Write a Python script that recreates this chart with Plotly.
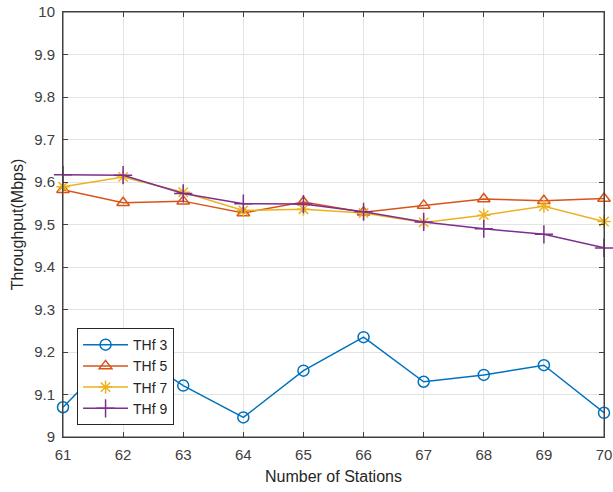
import plotly.graph_objects as go

stations = [61, 62, 63, 64, 65, 66, 67, 68, 69, 70]
thf3 = [9.070, 9.215, 9.121, 9.046, 9.156, 9.235, 9.130, 9.146, 9.169, 9.057]
thf5 = [9.582, 9.551, 9.555, 9.527, 9.553, 9.529, 9.545, 9.560, 9.556, 9.561]
thf7 = [9.589, 9.612, 9.576, 9.533, 9.536, 9.527, 9.505, 9.522, 9.543, 9.507]
thf9 = [9.617, 9.616, 9.573, 9.549, 9.548, 9.530, 9.506, 9.490, 9.477, 9.445]
names = ["THf 3", "THf 5", "THf 7", "THf 9"]
colors = ["#0072BD", "#D95319", "#EDB120", "#7E2F8E"]
symbols = ["circle-open", "triangle-up-open", "asterisk-open", "cross-thin-open"]
sizes = [11, 11, 11, 13]

fig = go.Figure()
for name, ys, c, s, sz in zip(names, [thf3, thf5, thf7, thf9], colors, symbols, sizes):
    fig.add_trace(go.Scatter(
        x=stations, y=ys, name=name, mode="lines+markers", cliponaxis=False,
        line=dict(color=c, width=1.5),
        marker=dict(symbol=s, size=sz, color=c, line=dict(color=c, width=1.5)),
    ))

axis_common = dict(
    showgrid=True, gridcolor="#e3e3e3", gridwidth=1,
    showline=True, linecolor="#404040", linewidth=1, mirror="ticks",
    ticks="inside", ticklen=5, tickcolor="#404040",
    tickfont=dict(family="Liberation Sans, Arial, sans-serif", size=15, color="#404040"),
    zeroline=False, automargin=False, ticklabeloverflow="allow",
)

fig.update_layout(
    width=613, height=492,
    margin=dict(l=63, r=9, t=12, b=55),
    paper_bgcolor="white", plot_bgcolor="white",
    font=dict(family="Liberation Sans, Arial, sans-serif", color="#262626"),
    xaxis=dict(range=[61, 70], tickmode="array", tickvals=stations,
               ticklabelstandoff=4,
               title=dict(text="Number of Stations", font=dict(size=16, color="#262626"), standoff=8),
               **axis_common),
    yaxis=dict(range=[9, 10], tickmode="linear", tick0=9, dtick=0.1,
               tickformat="~g", ticklabelstandoff=4,
               title=dict(text="Throughput(Mbps)", font=dict(size=16, color="#262626"), standoff=6),
               **axis_common),
    legend=dict(x=0.026, y=0.028, xanchor="left", yanchor="bottom",
                bgcolor="white", bordercolor="#262626", borderwidth=1,
                font=dict(size=14, color="#262626"),
                tracegroupgap=0, itemwidth=45),
    shapes=[dict(type="rect", xref="x domain", yref="y domain", x0=0, x1=1, y0=0, y1=1,
                 line=dict(color="#404040", width=1), layer="above")],
    showlegend=True,
)

fig.write_html(
    "out.html",
    config={"displayModeBar": False},
    post_script="document.body.style.margin='0';document.body.style.overflow='hidden';",
)
